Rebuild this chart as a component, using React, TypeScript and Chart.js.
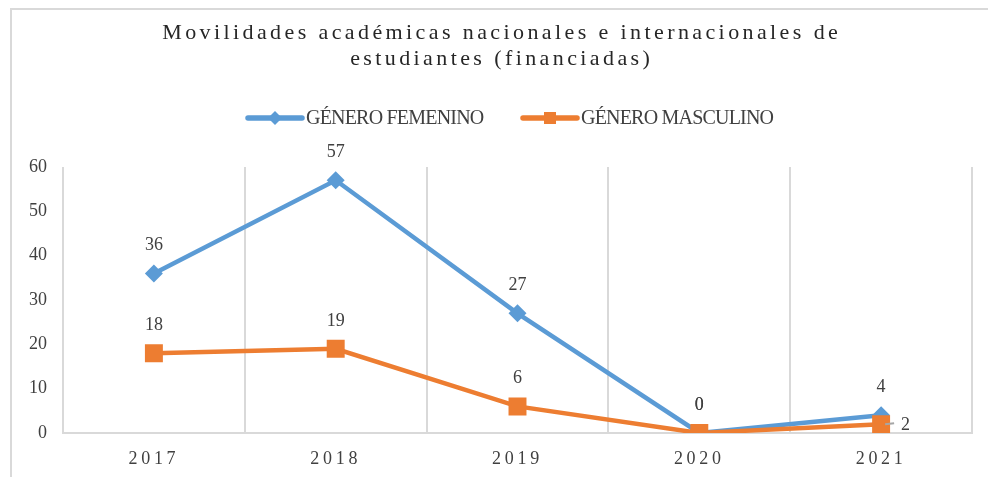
import React, { useEffect, useRef } from "react";
import { Chart, registerables } from "chart.js";

Chart.register(...registerables);

const TITLE_LINES = [
  "Movilidades académicas nacionales e internacionales de",
  "estudiantes (financiadas)",
];
const CATEGORIES = ["2017", "2018", "2019", "2020", "2021"];
const SERIES_NAMES = ["GÉNERO FEMENINO", "GÉNERO MASCULINO"];
const FEMENINO = [36, 57, 27, 0, 4];
const MASCULINO = [18, 19, 6, 0, 2];
const Y_TICKS = [0, 10, 20, 30, 40, 50, 60];

const BLUE = "#5B9BD5";
const ORANGE = "#ED7D31";
const TEXT = "#404040";
const GRID = "#D9D9D9";
const SERIF = '"Liberation Serif", "Times New Roman", serif';

const overlay = {
  id: "overlay",
  afterDraw(chart: any) {
    const ctx = chart.ctx as CanvasRenderingContext2D & { letterSpacing: string };
    ctx.save();

    // Title
    ctx.font = `22px ${SERIF}`;
    ctx.letterSpacing = "3.4px";
    ctx.textAlign = "center";
    ctx.textBaseline = "alphabetic";
    ctx.fillStyle = "#262626";
    TITLE_LINES.forEach((t, i) => ctx.fillText(t, 500 + 1.7, 39 + i * 26));

    // Legend
    ctx.font = `20px ${SERIF}`;
    ctx.letterSpacing = "-0.8px";
    ctx.textAlign = "left";
    ctx.textBaseline = "middle";
    const starts = [248, 523];
    const colors = [BLUE, ORANGE];
    const ly = 118;
    SERIES_NAMES.forEach((name, i) => {
      const x0 = starts[i];
      ctx.strokeStyle = colors[i];
      ctx.lineWidth = 5.5;
      ctx.lineCap = "round";
      ctx.beginPath();
      ctx.moveTo(x0, ly);
      ctx.lineTo(x0 + 54, ly);
      ctx.stroke();
      ctx.fillStyle = colors[i];
      const cx = x0 + 27;
      if (i === 0) {
        ctx.beginPath();
        ctx.moveTo(cx, ly - 7);
        ctx.lineTo(cx + 7, ly);
        ctx.lineTo(cx, ly + 7);
        ctx.lineTo(cx - 7, ly);
        ctx.closePath();
        ctx.fill();
      } else {
        ctx.fillRect(cx - 6, ly - 6, 12, 12);
      }
      ctx.fillStyle = TEXT;
      ctx.fillText(name, x0 + 58, ly + 1);
    });

    // X tick labels (letter-spaced)
    const xs = chart.scales.x;
    ctx.font = `18px ${SERIF}`;
    ctx.letterSpacing = "3.7px";
    ctx.textAlign = "center";
    ctx.textBaseline = "alphabetic";
    ctx.fillStyle = TEXT;
    CATEGORIES.forEach((c, i) => {
      ctx.fillText(c, xs.getPixelForTick(i), 464);
    });

    // Data labels
    ctx.letterSpacing = "0px";
    ctx.font = `18px ${SERIF}`;
    ctx.fillStyle = TEXT;
    const drawLabels = (dsIndex: number, values: number[]) => {
      const meta = chart.getDatasetMeta(dsIndex);
      meta.data.forEach((pt: any, i: number) => {
        const v = values[i];
        if (dsIndex === 1 && i === values.length - 1) {
          ctx.strokeStyle = "#A6A6A6";
          ctx.lineWidth = 2;
          ctx.lineCap = "butt";
          ctx.beginPath();
          ctx.moveTo(pt.x + 4, pt.y);
          ctx.lineTo(pt.x + 13, pt.y - 1);
          ctx.stroke();
          ctx.textAlign = "left";
          ctx.textBaseline = "middle";
          ctx.fillText(String(v), pt.x + 20, pt.y + 1);
        } else {
          ctx.textAlign = "center";
          ctx.textBaseline = "alphabetic";
          ctx.fillText(String(v), pt.x, pt.y - 23);
        }
      });
    };
    drawLabels(0, FEMENINO);
    drawLabels(1, MASCULINO);

    ctx.restore();
  },
};

export default function App() {
  const ref = useRef<HTMLCanvasElement | null>(null);

  useEffect(() => {
    if (!ref.current) return;
    const chart = new Chart(ref.current, {
      type: "line",
      data: {
        labels: CATEGORIES,
        datasets: [
          {
            label: SERIES_NAMES[0],
            data: FEMENINO,
            borderColor: BLUE,
            backgroundColor: BLUE,
            borderWidth: 4.5,
            pointStyle: "rectRot",
            pointRadius: 9,
            pointBorderWidth: 0,
            pointBackgroundColor: BLUE,
            tension: 0,
            order: 1,
          },
          {
            label: SERIES_NAMES[1],
            data: MASCULINO,
            borderColor: ORANGE,
            backgroundColor: ORANGE,
            borderWidth: 4.5,
            pointStyle: "rect",
            pointRadius: 12.7,
            pointBorderWidth: 0,
            pointBackgroundColor: ORANGE,
            tension: 0,
            order: 0,
          },
        ],
      },
      options: {
        responsive: false,
        animation: false,
        layout: { padding: { top: 167, right: 16, left: 0, bottom: 0 } },
        plugins: {
          legend: { display: false },
          title: { display: false },
          tooltip: { enabled: false },
        },
        scales: {
          x: {
            type: "category",
            offset: true,
            grid: {
              display: true,
              offset: true,
              color: GRID,
              lineWidth: 2,
              drawTicks: false,
            },
            border: { display: true, color: GRID, width: 2 },
            ticks: { display: false },
            afterFit: (s: any) => {
              s.height = 44;
            },
          },
          y: {
            min: 0,
            max: 60,
            afterBuildTicks: (s: any) => {
              s.ticks = Y_TICKS.map((v) => ({ value: v }));
            },
            grid: { display: false, drawTicks: false },
            border: { display: false },
            ticks: {
              padding: 16,
              color: TEXT,
              font: { family: SERIF, size: 18 },
            },
            afterFit: (s: any) => {
              s.width = 63;
            },
          },
        },
      },
      plugins: [overlay],
    });
    return () => chart.destroy();
  }, []);

  return (
    <div
      style={{
        position: "absolute",
        left: 0,
        top: 0,
        width: 988,
        height: 477,
        overflow: "hidden",
        background: "#fff",
      }}
    >
      <div
        style={{
          position: "absolute",
          left: 10,
          top: 8,
          width: 1100,
          height: 600,
          borderLeft: `2px solid ${GRID}`,
          borderTop: `2px solid ${GRID}`,
        }}
      />
      <canvas
        ref={ref}
        width={988}
        height={477}
        style={{ position: "absolute", left: 0, top: 0 }}
      />
    </div>
  );
}
